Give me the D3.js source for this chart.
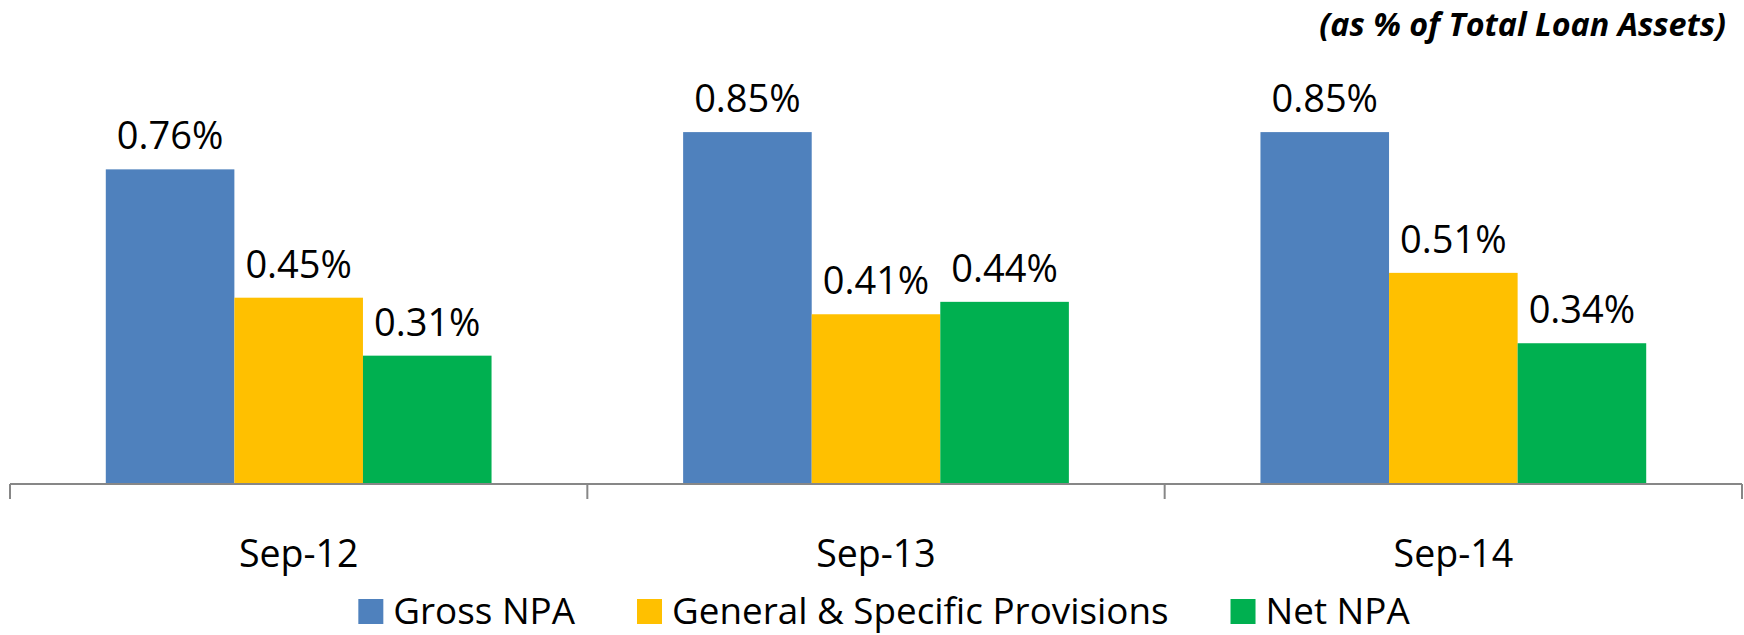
<!DOCTYPE html>
<html>
<head>
<meta charset="utf-8">
<script src="https://cdn.jsdelivr.net/npm/d3@7"></script>
<style>
    html, body { margin: 0; padding: 0; background: #fff; }
    svg { display: block; font-family: "Open Sans", "Liberation Sans", sans-serif; }
</style>
</head>
<body>
<svg id="npa-chart"></svg>
<script>
const categories = ["Sep-12", "Sep-13", "Sep-14"];
const series = ["Gross NPA", "General & Specific Provisions", "Net NPA"];
const grossNpa = [0.76, 0.85, 0.85];
const provisions = [0.45, 0.41, 0.51];
const netNpa = [0.31, 0.44, 0.34];
const colors = ["#4f81bd", "#ffc000", "#00b050"];
const note = "(as % of Total Loan Assets)";

const values = [grossNpa, provisions, netNpa];

const chart = () => {
    const width = 1744;
    const height = 635;
    const margin = {top: 70, right: 2, bottom: 151, left: 10};

    const svg = d3.select("#npa-chart").html(null)
        .attr("width", width)
        .attr("height", height)
        .attr("viewBox", [0, 0, width, height]);

    const rows = categories.flatMap((c, i) =>
        series.map((s, j) => ({category: c, series: s, value: values[j][i], color: colors[j]}))
    );

    const x = d3
        .scaleBand()
        .domain(categories)
        .range([margin.left, width - margin.right]);

    const xSub = d3
        .scaleBand()
        .domain(series)
        .range([0, x.bandwidth()])
        .paddingInner(0)
        .paddingOuter(0.745);

    const y = d3
        .scaleLinear()
        .domain([0, 1])
        .range([height - margin.bottom, margin.top]);

    // bars
    svg.append("g")
        .selectAll("rect")
        .data(rows)
        .join("rect")
        .attr("x", d => x(d.category) + xSub(d.series))
        .attr("y", d => y(d.value))
        .attr("width", xSub.bandwidth())
        .attr("height", d => y(0) - y(d.value))
        .style("fill", d => d.color);

    // value labels
    svg.append("g")
        .selectAll("text")
        .data(rows)
        .join("text")
        .attr("x", d => x(d.category) + xSub(d.series) + xSub.bandwidth() / 2)
        .attr("y", d => y(d.value) - 20)
        .attr("text-anchor", "middle")
        .style("font-size", "38px")
        .style("fill", "#000")
        .text(d => d.value.toFixed(2) + "%");

    // category axis, ticks between groups
    const axis = svg.append("g").attr("transform", `translate(0,${y(0)})`);
    axis.append("line")
        .attr("x1", margin.left)
        .attr("x2", width - margin.right)
        .attr("stroke", "#878787")
        .attr("stroke-width", 2);
    axis.selectAll(".tick")
        .data(categories.map(c => x(c)).concat([x.range()[1]]))
        .join("line")
        .attr("class", "tick")
        .attr("x1", d => d)
        .attr("x2", d => d)
        .attr("y1", 0)
        .attr("y2", 15)
        .attr("stroke", "#878787")
        .attr("stroke-width", 2);
    axis.selectAll(".cat")
        .data(categories)
        .join("text")
        .attr("class", "cat")
        .attr("x", d => x(d) + x.bandwidth() / 2)
        .attr("y", 83)
        .attr("text-anchor", "middle")
        .style("font-size", "37.5px")
        .text(d => d);

    // note at top right
    svg.append("text")
        .attr("x", 1726)
        .attr("y", 36)
        .attr("text-anchor", "end")
        .style("font-size", "32.3px")
        .style("font-weight", "bold")
        .style("font-style", "italic")
        .text(note);

    // legend (kept just above the bottom edge so descenders are not cut)
    const legend = svg.append("g");
    const item = legend.selectAll("g")
        .data(series)
        .join("g");
    item.append("rect")
        .attr("width", 25)
        .attr("height", 25)
        .attr("y", -25)
        .style("fill", (d, i) => colors[i]);
    item.append("text")
        .attr("x", 35)
        .attr("y", 0)
        .style("font-size", "36.8px")
        .text(d => d);

    let offset = 0;
    item.each(function () {
        const w = 35 + d3.select(this).select("text").node().getComputedTextLength();
        d3.select(this).attr("transform", `translate(${offset},0)`);
        offset += w + 62;
    });
    const total = offset - 62;
    legend.attr("transform", `translate(${884 - total / 2},624)`);

    return svg.node();
};

chart();
</script>
</body>
</html>
